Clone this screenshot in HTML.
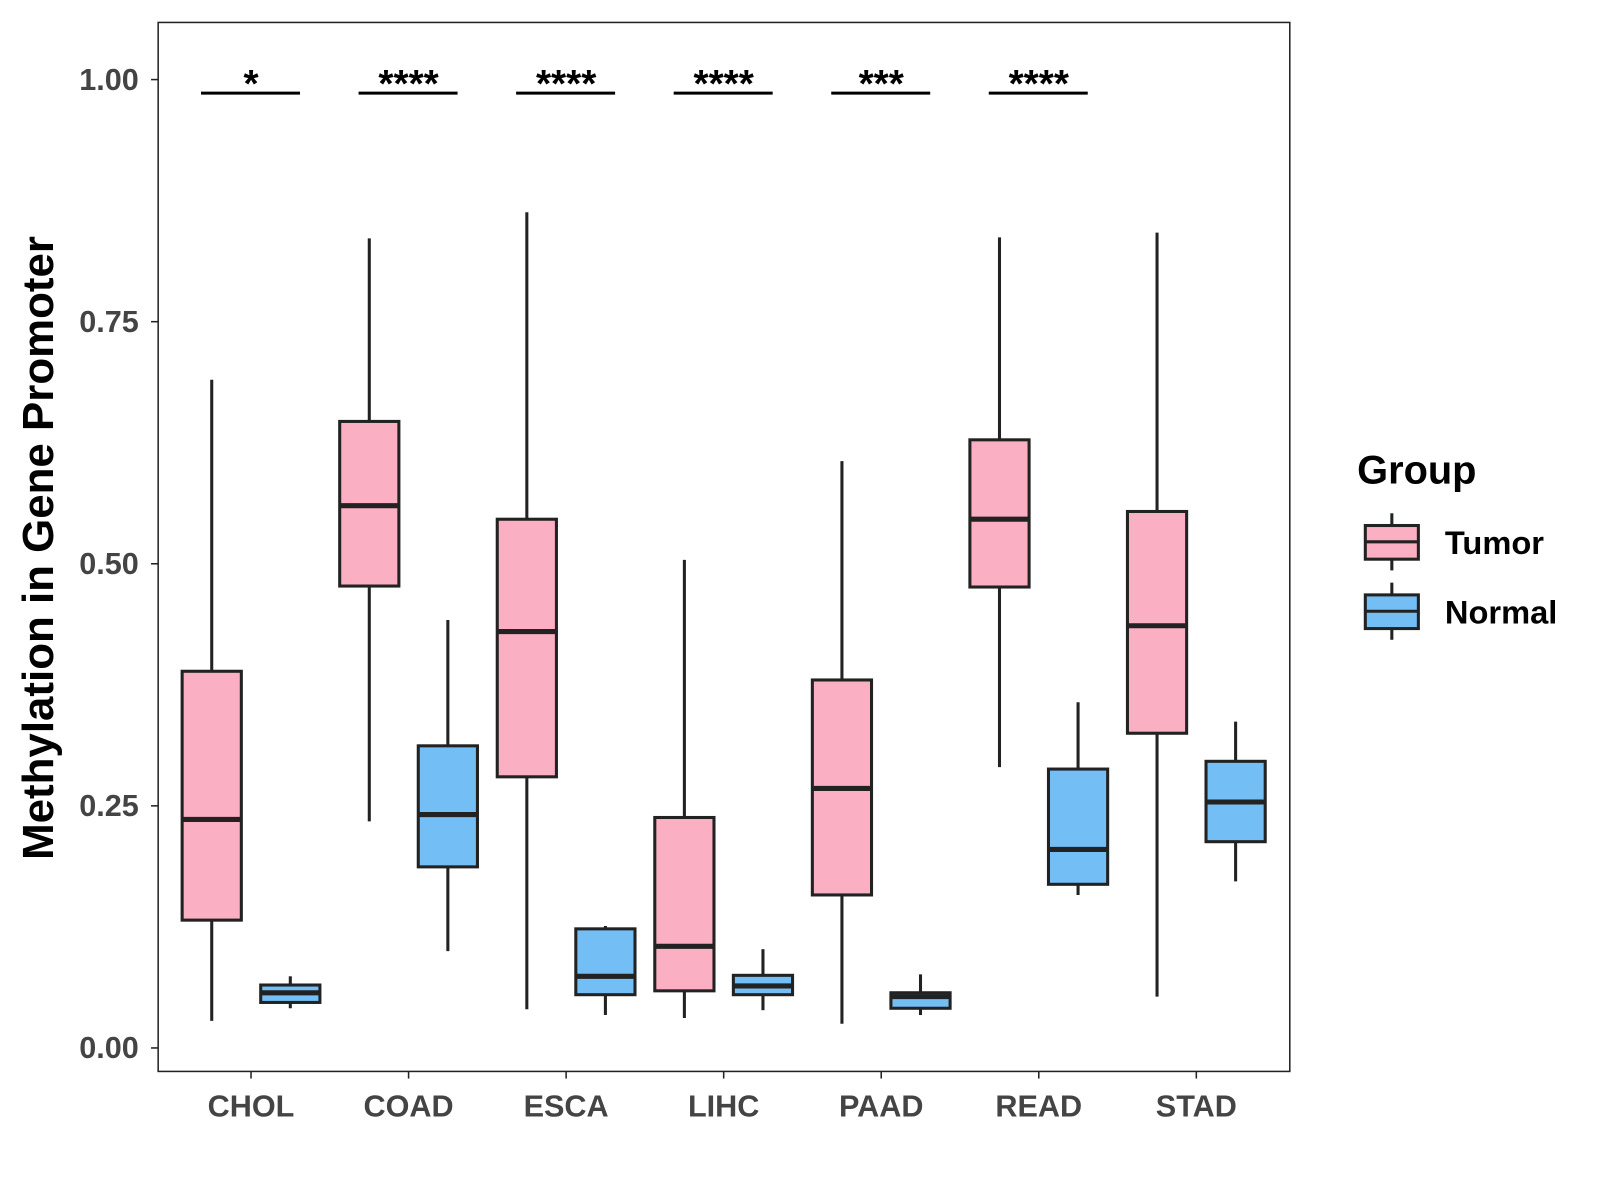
<!DOCTYPE html>
<html><head><meta charset="utf-8"><style>
body{margin:0;background:#fff;}
svg{display:block;font-family:"Liberation Sans",Arial,sans-serif;}
</style></head><body>
<svg id="chart" width="1600" height="1200" viewBox="0 0 1568 1176">
<rect x="155" y="22" width="1109" height="1028" fill="#fff" stroke="#222" stroke-width="1.5"/>
<g id="marks"></g>
<text transform="translate(52,537) rotate(-90)" text-anchor="middle" font-size="43" font-weight="bold" fill="#000">Methylation in Gene Promoter</text>
<text x="1330" y="474" font-size="39" font-weight="bold" fill="#000">Group</text>
<g>
<line x1="1364" y1="503" x2="1364" y2="559" stroke="#222" stroke-width="3"/>
<rect x="1338" y="515" width="52" height="33" fill="#FBAFC2" stroke="#222" stroke-width="3"/>
<line x1="1338" y1="531" x2="1390" y2="531" stroke="#222" stroke-width="3"/>
<text x="1416" y="543" font-size="32" font-weight="bold">Tumor</text></g>
<g>
<line x1="1364" y1="571" x2="1364" y2="627" stroke="#222" stroke-width="3"/>
<rect x="1338" y="583" width="52" height="33" fill="#74BEF6" stroke="#222" stroke-width="3"/>
<line x1="1338" y1="599" x2="1390" y2="599" stroke="#222" stroke-width="3"/>
<text x="1416" y="611" font-size="32" font-weight="bold">Normal</text></g>
</svg>
<script>
const categories=["CHOL","COAD","ESCA","LIHC","PAAD","READ","STAD"];
// [low, q1, median, q3, high]
const tumorStats=[[0.028,0.132,0.236,0.389,0.690],[0.234,0.477,0.560,0.647,0.836],[0.040,0.280,0.430,0.546,0.863],[0.031,0.059,0.105,0.238,0.504],[0.025,0.158,0.268,0.380,0.606],[0.290,0.476,0.546,0.628,0.837],[0.053,0.325,0.436,0.554,0.842]];
const normalStats=[[0.041,0.047,0.057,0.065,0.074],[0.100,0.187,0.241,0.312,0.442],[0.034,0.055,0.074,0.123,0.126],[0.039,0.055,0.064,0.075,0.102],[0.034,0.041,0.053,0.057,0.076],[0.158,0.169,0.205,0.288,0.357],[0.172,0.213,0.254,0.296,0.337]];
const sigLabels=["*","****","****","****","***","****",""];
const yTicks=[0,0.25,0.5,0.75,1.0];
const yTickLabels=["0.00","0.25","0.50","0.75","1.00"];
const sigLevel=0.986;
const NS="http://www.w3.org/2000/svg";
const g=document.getElementById("marks");
const yS=v=>1027-v*949;
const xS=i=>246+i*154.4;
function mk(tag,attrs,parent){const e=document.createElementNS(NS,tag);for(const k in attrs)e.setAttribute(k,attrs[k]);(parent||g).appendChild(e);return e;}
yTicks.forEach((v,i)=>{
  const t=mk("line",{x1:148,x2:155,y1:yS(v),y2:yS(v),stroke:"#222","stroke-width":1.5});
  
  
  const l=mk("text",{x:136,y:yS(v)+10,"text-anchor":"end","font-size":30,"font-weight":"bold",fill:"#444"});
  
  
  l.textContent=yTickLabels[i];
});
function box(s,cx,fill,name){
  const grp=mk("g",{});
  
  
  mk("line",{x1:cx,x2:cx,y1:yS(s[0]),y2:yS(s[4]),stroke:"#222","stroke-width":3},grp);
  mk("rect",{x:cx-29,y:yS(s[3]),width:58,height:yS(s[1])-yS(s[3]),fill:fill,stroke:"#222","stroke-width":3},grp);
  mk("line",{x1:cx-29,x2:cx+29,y1:yS(s[2]),y2:yS(s[2]),stroke:"#222","stroke-width":5},grp);
}
categories.forEach((c,i)=>{
  const cx=xS(i);
  box(tumorStats[i],cx-38.5,"#FBAFC2","box-tumor-"+c.toLowerCase());
  box(normalStats[i],cx+38.5,"#74BEF6","box-normal-"+c.toLowerCase());
  const t=mk("line",{x1:cx,x2:cx,y1:1050,y2:1057,stroke:"#222","stroke-width":1.5});
  
  
  const l=mk("text",{x:cx,y:1094,"text-anchor":"middle","font-size":30,"font-weight":"bold",fill:"#444"});
  
  
  l.textContent=c;
  if(sigLabels[i]){
    const sl=mk("line",{x1:cx-49,x2:cx+48,y1:yS(sigLevel),y2:yS(sigLevel),stroke:"#000","stroke-width":3});
    
    
    const st=mk("text",{x:cx,y:yS(sigLevel)+4,"text-anchor":"middle","font-size":38,"font-weight":"bold",fill:"#000"});
    
    
    st.textContent=sigLabels[i];
  }
});
</script>
</body></html>
